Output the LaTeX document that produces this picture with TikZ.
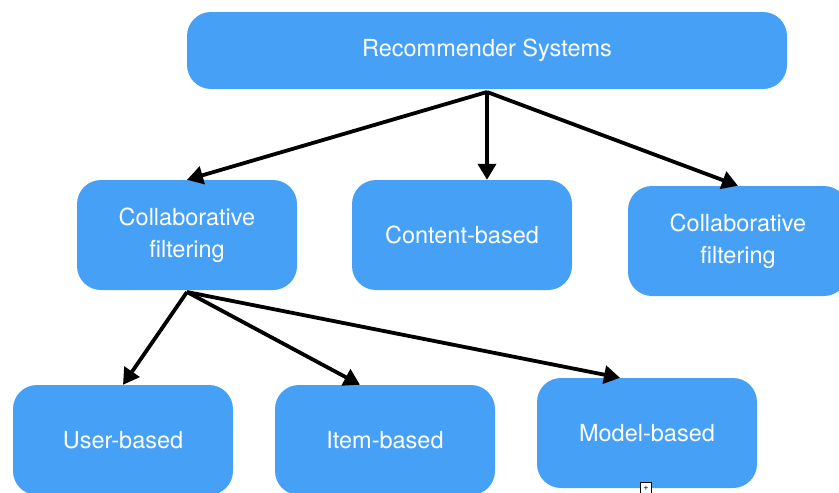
\documentclass[tikz,border=0pt]{standalone}
\usepackage{fontspec}
\setmainfont{TeX Gyre Heros}
\usetikzlibrary{positioning,arrows.meta}
\definecolor{boxblue}{HTML}{46A1F6}
\tikzset{
  category/.style={rectangle,rounded corners=24pt,fill=boxblue,text=white,
    minimum width=220pt,minimum height=110pt,align=center,
    font=\fontsize{23.5}{32}\selectfont},
  link/.style={-{Triangle[length=16pt,width=18pt]},line width=3.8pt}
}
\begin{document}
\begin{tikzpicture}[x=1pt,y=-1pt]
    \useasboundingbox (0,0) rectangle (839,493);

    \node[category,minimum width=600pt,minimum height=77pt] (recsys) at (487,50.5) {Recommender Systems};

    % Second level
    \node[category] (collab_left) at (187,235) {Collaborative\\filtering};
    \node[category] (content) at (462,235) {Content-based};
    \node[category] (collab_right) at (738,241) {Collaborative\\filtering};

    % Third level
    \node[category] (user) at (123,440) {User-based};
    \node[category] (item) at (385,440) {Item-based};
    \node[category] (model) at (647,433) {Model-based};

    \node[draw,fill=white,inner sep=0pt,minimum size=11pt,font=\small] (handle) at (646,488) {+};

    \coordinate (recsys_split) at (487,92);
    \coordinate (collab_split) at (187,292);

    \draw[link] (recsys_split) -- (collab_left.north);
    \draw[link] (recsys_split) -- (content.north -| recsys_split);
    \draw[link] (recsys_split) -- (collab_right.north);

    \draw[link] (collab_split) -- (user.north);
    \draw[link] (collab_split) -- ([xshift=-25pt]item.north);
    \draw[link] (collab_split) -- ([xshift=-27pt]model.north);
\end{tikzpicture}
\end{document}
